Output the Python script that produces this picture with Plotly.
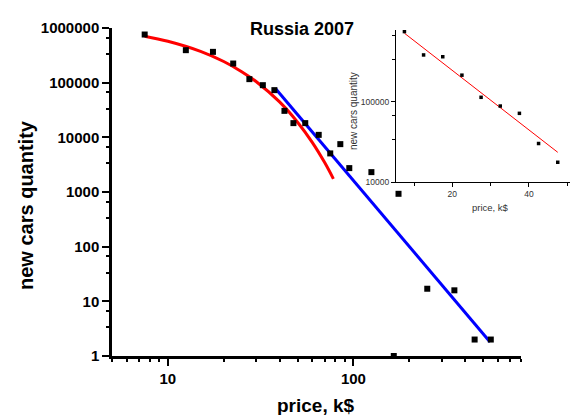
import plotly.graph_objects as go

# Russian new-car sales in 2007 by price bin (price in k$, quantity of cars)
price_k = [7.5, 12.5, 17.5, 22.5, 27.5, 32.5, 37.5, 42.5, 47.5,
           55, 65, 75, 85, 95, 125, 165, 175, 250, 350, 450, 550]
quantity = [760000, 393000, 366000, 224000, 116000, 90000, 73000, 30500, 18200,
            18200, 11100, 5080, 7510, 2735, 2310, 1, 927, 17, 15.9, 2.0, 2.0]

# Exponential fit of the cheap segment (below 50 k$), sampled along the curve
exp_fit_x = [7.5, 10, 15, 20, 25, 30, 40, 50, 60, 70, 78]
exp_fit_y = [708000, 572000, 374000, 244000, 159000, 104000, 44400, 18900, 8080, 3450, 1740]

# Power-law fit of the expensive segment (slope about -4 in log-log)
pow_fit_x = [38, 545]
pow_fit_y = [78500, 1.81]

# Inset: the cheap segment on a linear price axis
inset_x = [7.5, 12.5, 17.5, 22.5, 27.5, 32.5, 37.5, 42.5, 47.5]
inset_y = [742000, 380000, 361000, 213000, 113000, 88000, 71400, 30100, 17600]
inset_fit_x = [7.5, 47.5]
inset_fit_y = [708000, 23400]

# Tick labels
main_y_ticks = [1, 10, 100, 1000, 10000, 100000, 1000000]
main_x_ticks = [10, 100]
inset_y_ticks = [10000, 100000]
inset_x_ticks = [20, 40]

W, H = 572, 415
FONT = "Liberation Sans, Arial, sans-serif"


def px_x(p):
    return p / W


def px_y(p):
    return 1 - p / H


fig = go.Figure()

fig.add_trace(go.Scatter(x=exp_fit_x, y=exp_fit_y, mode="lines", line_shape="spline",
                         line=dict(color="#ff0000", width=3), xaxis="x", yaxis="y"))
fig.add_trace(go.Scatter(x=pow_fit_x, y=pow_fit_y, mode="lines",
                         line=dict(color="#0000ff", width=3), xaxis="x", yaxis="y"))
fig.add_trace(go.Scatter(x=price_k, y=quantity, mode="markers",
                         marker=dict(symbol="square", size=6, color="black"),
                         xaxis="x", yaxis="y"))

fig.add_trace(go.Scatter(x=inset_fit_x, y=inset_fit_y, mode="lines",
                         line=dict(color="#ff0000", width=1), xaxis="x2", yaxis="y2"))
fig.add_trace(go.Scatter(x=inset_x, y=inset_y, mode="markers",
                         marker=dict(symbol="square", size=3.5, color="black"),
                         xaxis="x2", yaxis="y2"))

decade_minor = []
for e in range(0, 6):
    decade_minor += [10 ** e * 10 / 3, 10 ** e * 20 / 3]

x_minor = [5, 6, 7, 8, 9, 20, 30, 40, 50, 60, 70, 80, 90, 200, 300, 400, 500, 600, 700, 800]

tick_font = dict(family=FONT, size=15, color="black", weight="bold")
inset_font = dict(family=FONT, size=8.5, color="#333333")

fig.update_layout(
    width=W, height=H,
    margin=dict(l=0, r=0, t=0, b=0),
    paper_bgcolor="white", plot_bgcolor="rgba(0,0,0,0)",
    showlegend=False,
    xaxis=dict(
        type="log", range=[0.69897, 2.90309], automargin=False,
        domain=[px_x(112), px_x(521)], anchor="y",
        showgrid=False, zeroline=False,
        showline=True, linecolor="black", linewidth=2.5,
        ticks="outside", ticklen=7, tickwidth=2, tickcolor="black",
        tickmode="array", tickvals=main_x_ticks,
        ticktext=[str(v) for v in main_x_ticks], tickfont=tick_font,
        minor=dict(tickmode="array", tickvals=x_minor, ticks="outside",
                   ticklen=3.5, tickwidth=2, tickcolor="black", showgrid=False),
    ),
    yaxis=dict(
        type="log", range=[0, 6], automargin=False,
        domain=[px_y(356), px_y(28)], anchor="x",
        showgrid=False, zeroline=False,
        showline=True, linecolor="black", linewidth=2.5,
        ticks="outside", ticklen=7, tickwidth=2, tickcolor="black",
        tickmode="array", tickvals=main_y_ticks,
        ticktext=[str(v) for v in main_y_ticks], tickfont=tick_font,
        minor=dict(tickmode="array", tickvals=decade_minor, ticks="outside",
                   ticklen=3.5, tickwidth=2, tickcolor="black", showgrid=False),
    ),
    xaxis2=dict(
        range=[5.3, 50.7], automargin=False,
        domain=[px_x(396), px_x(570)], anchor="y2",
        showgrid=False, zeroline=False,
        showline=True, linecolor="black", linewidth=1.3,
        ticks="outside", ticklen=4, tickwidth=1.2, tickcolor="black",
        tickmode="array", tickvals=inset_x_ticks,
        ticktext=[str(v) for v in inset_x_ticks], tickfont=inset_font,
        minor=dict(tickmode="array", tickvals=[10, 30, 50], ticks="outside",
                   ticklen=2.5, tickwidth=1.2, tickcolor="black", showgrid=False),
    ),
    yaxis2=dict(
        type="log", range=[4, 5.89], automargin=False,
        domain=[px_y(182), px_y(30)], anchor="x2",
        showgrid=False, zeroline=False,
        showline=True, linecolor="black", linewidth=1.3,
        ticks="outside", ticklen=4, tickwidth=1.2, tickcolor="black",
        tickmode="array", tickvals=inset_y_ticks,
        ticktext=[str(v) for v in inset_y_ticks], tickfont=inset_font,
        minor=dict(tickmode="array",
                   tickvals=[10000 / 3 * 10, 20000 / 3 * 10, 1e6 / 3, 2e6 / 3],
                   ticks="outside", ticklen=2.5, tickwidth=1.2, tickcolor="black",
                   showgrid=False),
    ),
    annotations=[
        dict(text="Russia 2007", x=px_x(302), y=px_y(29), xref="paper", yref="paper",
             showarrow=False, xanchor="center", yanchor="middle",
             font=dict(family=FONT, size=18, color="black", weight="bold")),
        dict(text="new cars quantity", x=px_x(26), y=px_y(205), xref="paper", yref="paper",
             showarrow=False, textangle=-90, xanchor="center", yanchor="middle",
             font=dict(family=FONT, size=20, color="black", weight="bold")),
        dict(text="price, k$", x=px_x(316), y=px_y(405), xref="paper", yref="paper",
             showarrow=False, xanchor="center", yanchor="middle",
             font=dict(family=FONT, size=19, color="black", weight="bold")),
        dict(text="new cars quantity", x=px_x(353), y=px_y(111), xref="paper", yref="paper",
             showarrow=False, textangle=-90, xanchor="center", yanchor="middle",
             font=dict(family=FONT, size=10, color="#333333")),
        dict(text="price, k$", x=px_x(490), y=px_y(207), xref="paper", yref="paper",
             showarrow=False, xanchor="center", yanchor="middle",
             font=dict(family=FONT, size=9.5, color="#333333")),
    ],
)

fig.write_html("out.html")
